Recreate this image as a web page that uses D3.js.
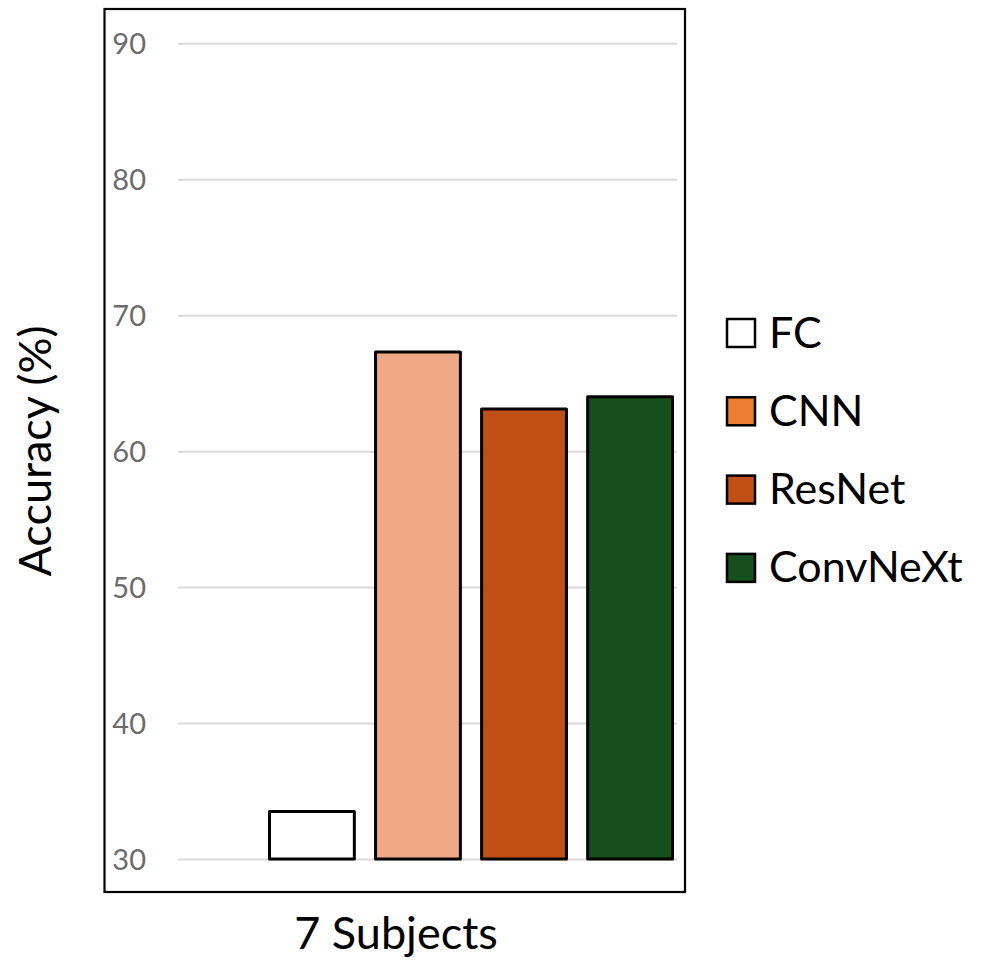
<!DOCTYPE html>
<html>
<head>
<meta charset="utf-8">
<script src="https://cdn.jsdelivr.net/npm/d3@7"></script>
<style>
  html, body { margin: 0; padding: 0; background: #fff; }
  svg { display: block; font-family: Lato, "Open Sans", sans-serif; }
</style>
</head>
<body>
<svg id="chart" width="983" height="963"></svg>
<script>
// Accuracy of each model on the 7-subject split
const models = ["FC", "CNN", "ResNet", "ConvNeXt"];
const accuracy = [33.5, 67.3, 63.1, 64.0];
const barColors = ["#ffffff", "#f1a985", "#c05016", "#154f1e"];
const legendColors = ["#ffffff", "#ed7d31", "#c05016", "#154f1e"];
const yTicks = [30, 40, 50, 60, 70, 80, 90];
const groupLabel = "7 Subjects";
const yTitle = "Accuracy (%)";

const svg = d3.select("#chart");

const y = d3.scaleLinear().domain([30, 90]).range([859, 43.3]);
const x = d3.scaleBand().domain(models).range([269.5, 672.5]).paddingInner(0.2).paddingOuter(0);

// Outer frame
svg.append("rect")
  .attr("x", 104.5).attr("y", 9).attr("width", 580.5).attr("height", 883)
  .attr("fill", "none").attr("stroke", "#000").attr("stroke-width", 2.2);

// Gridlines and tick labels
const gridLeft = 178, gridRight = 677;
const axis = svg.append("g")
  .attr("transform", `translate(${gridLeft},0)`)
  .call(d3.axisLeft(y).tickValues(yTicks).tickSize(-(gridRight - gridLeft)).tickPadding(32));
axis.select(".domain").remove();
axis.selectAll(".tick line").attr("stroke", "#d9d9d9").attr("stroke-width", 2);
axis.selectAll(".tick text")
  .attr("fill", "#6b6b6b")
  .style("font-size", "29px")
  .style("font-family", "Lato, 'Open Sans', sans-serif")
  .attr("dy", "0.36em");

// Bars
svg.append("g").selectAll("rect")
  .data(models)
  .join("rect")
  .attr("x", d => x(d))
  .attr("width", x.bandwidth())
  .attr("y", (d, i) => y(accuracy[i]))
  .attr("height", (d, i) => y(30) - y(accuracy[i]))
  .attr("fill", (d, i) => barColors[i])
  .attr("stroke", "#000")
  .attr("stroke-width", 3)
  .attr("stroke-linejoin", "round");

// Axis titles
svg.append("text")
  .attr("x", 396).attr("y", 949)
  .attr("text-anchor", "middle")
  .attr("fill", "#000").style("font-size", "45px")
  .text(groupLabel);

svg.append("text")
  .attr("transform", "translate(51,451) rotate(-90)")
  .attr("text-anchor", "middle")
  .attr("fill", "#000").style("font-size", "45px")
  .text(yTitle);

// Legend
const legend = svg.append("g").selectAll("g")
  .data(models)
  .join("g")
  .attr("transform", (d, i) => `translate(727,${333 + i * 78.3})`);
legend.append("rect")
  .attr("x", 0).attr("y", -14).attr("width", 28).attr("height", 28)
  .attr("fill", (d, i) => legendColors[i])
  .attr("stroke", "#000").attr("stroke-width", 2.5);
legend.append("text")
  .attr("x", 42).attr("y", 14.5)
  .attr("fill", "#000").style("font-size", "43px")
  .text(d => d);
</script>
</body>
</html>
